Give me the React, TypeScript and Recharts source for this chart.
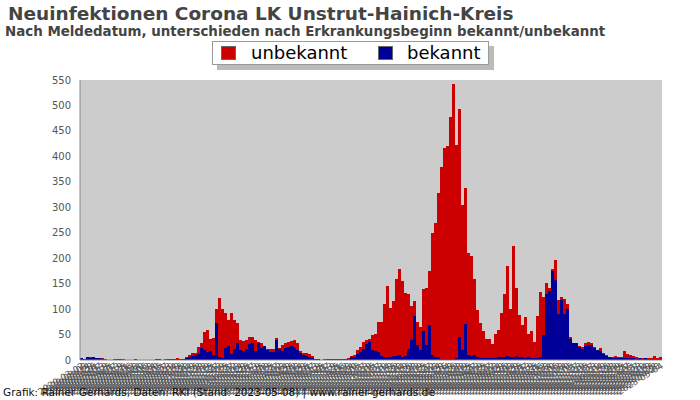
import React from 'react';
import { BarChart, Bar, XAxis, YAxis, CartesianGrid } from 'recharts';

// Fälle mit bekanntem Erkrankungsbeginn (blau, unten)
const bekannt = [
  3, 2, 5, 4, 5, 4, 3, 2, 0, 0,
  0, 0, 1, 1, 0, 0, 0, 0, 1, 0,
  0, 0, 0, 0, 0, 1, 1, 0, 0, 1,
  1, 1, 1, 1, 2, 3, 6, 8, 9, 12,
  23, 20, 15, 18, 10, 73, 6, 3, 23, 28,
  12, 21, 34, 20, 18, 22, 32, 33, 18, 33,
  23, 27, 20, 16, 16, 40, 22, 18, 23, 26,
  28, 25, 20, 13, 10, 8, 6, 3, 1, 1,
  0, 0, 1, 1, 1, 1, 1, 1, 1, 2,
  5, 6, 12, 15, 22, 31, 38, 20, 18, 15,
  8, 5, 5, 5, 8, 8, 10, 5, 8, 22,
  40, 86, 30, 20, 57, 30, 68, 10, 5, 5,
  2, 2, 2, 2, 2, 3, 45, 20, 71, 10,
  8, 10, 5, 3, 3, 3, 3, 3, 3, 5,
  5, 5, 8, 5, 5, 8, 5, 5, 3, 5,
  3, 3, 3, 5, 50, 130, 135, 175, 157, 90,
  118, 90, 100, 42, 34, 33, 26, 22, 28, 30,
  30, 24, 20, 18, 11, 8, 5, 4, 3, 4,
  3, 4, 4, 3, 3, 2, 3, 2, 3, 2,
  2, 2, 2, 2,
];

// Fälle mit unbekanntem Erkrankungsbeginn (rot, oben)
const unbekannt = [
  0, 0, 0, 2, 0, 0, 1, 1, 1, 0,
  0, 1, 0, 0, 1, 0, 0, 0, 0, 0,
  0, 0, 0, 0, 0, 0, 0, 0, 1, 0,
  0, 1, 2, 0, 0, 2, 4, 5, 5, 13,
  10, 35, 44, 24, 33, 27, 116, 97, 69, 50,
  80, 57, 38, 20, 20, 18, 14, 12, 22, 3,
  10, 1, 2, 6, 6, 3, 2, 12, 11, 10,
  10, 14, 14, 5, 4, 6, 5, 5, 1, 0,
  0, 2, 0, 0, 0, 0, 0, 0, 1, 2,
  3, 4, 8, 11, 14, 8, 4, 30, 34, 60,
  67, 105, 141, 97, 108, 151, 168, 150, 124, 108,
  66, 30, 45, 45, 83, 111, 107, 240, 265, 324,
  378, 414, 418, 476, 540, 419, 448, 285, 266, 200,
  197, 149, 93, 69, 53, 38, 38, 29, 49, 54,
  88, 125, 177, 95, 219, 133, 83, 64, 81, 46,
  53, 33, 83, 129, 74, 22, 6, 3, 39, 28,
  6, 29, 10, 3, 0, 0, 2, 3, 6, 5,
  4, 2, 0, 6, 3, 2, 1, 1, 4, 1,
  3, 14, 7, 7, 4, 4, 1, 2, 1, 1,
  2, 5, 1, 3,
];

const yTicks = [0, 50, 100, 150, 200, 250, 300, 350, 400, 450, 500, 550];

// Meldedatum-Kategorien (Achsenbeschriftung)
const startDatum = '2020-03-02';
const schrittTage = 6;
const datum = bekannt.map((_, i) =>
  new Date(Date.parse(startDatum) + i * schrittTage * 86400000).toISOString().slice(0, 10)
);

const data = datum.map((d, i) => ({ datum: d, bekannt: bekannt[i], unbekannt: unbekannt[i] }));

const RED = '#cc0000';
const BLUE = '#000099';
const FONT = '"DejaVu Sans", Verdana, sans-serif';

export default function App() {
  return (
    <div
      style={{
        position: 'absolute',
        left: 0,
        top: 0,
        width: 700,
        height: 400,
        background: '#ffffff',
        fontFamily: FONT,
        overflow: 'hidden',
      }}
    >
      <style>{`.uhk-chart .recharts-bar-rectangle path { shape-rendering: crispEdges; }`}</style>
      <div className="uhk-chart" style={{ position: 'absolute', left: 0, top: 0 }}>
        <BarChart
          width={700}
          height={400}
          data={data}
          margin={{ top: 80, right: 38, bottom: 0, left: 0 }}
          barCategoryGap={0}
          barGap={0}
        >
          <CartesianGrid fill="#cccccc" horizontal={false} vertical={false} />
          <XAxis
            dataKey="datum"
            interval={0}
            height={40}
            angle={-32}
            textAnchor="end"
            tick={{ fontSize: 9, fill: '#555555', fontFamily: FONT }}
            tickLine={false}
            tickSize={0}
            tickMargin={2}
            axisLine={{ stroke: '#888888' }}
          />
          <YAxis
            width={80}
            domain={[0, 550]}
            ticks={yTicks}
            interval={0}
            tickLine={false}
            tickSize={0}
            tickMargin={9}
            axisLine={{ stroke: '#888888' }}
            tick={{ fontSize: 10, fill: '#555555', fontFamily: FONT }}
          />
          <Bar dataKey="bekannt" stackId="a" fill={BLUE} isAnimationActive={false} />
          <Bar dataKey="unbekannt" stackId="a" fill={RED} isAnimationActive={false} />
        </BarChart>
      </div>

      <div
        style={{
          position: 'absolute',
          left: 8,
          top: 4,
          fontSize: 18.5,
          lineHeight: '19px',
          fontWeight: 'bold',
          color: '#444444',
          whiteSpace: 'nowrap',
        }}
      >
        Neuinfektionen Corona LK Unstrut-Hainich-Kreis
      </div>
      <div
        style={{
          position: 'absolute',
          left: 5,
          top: 25,
          fontSize: 13.4,
          lineHeight: '13px',
          fontWeight: 'bold',
          color: '#444444',
          whiteSpace: 'nowrap',
        }}
      >
        Nach Meldedatum, unterschieden nach Erkrankungsbeginn bekannt/unbekannt
      </div>

      {/* Legende */}
      <div
        style={{
          position: 'absolute',
          left: 212,
          top: 41,
          width: 275,
          height: 22,
          background: '#ffffff',
          border: '1px solid #999999',
          boxShadow: '5px 5px 0 #bbbbbb',
        }}
      />
      <div
        style={{
          position: 'absolute',
          left: 221,
          top: 46,
          width: 13,
          height: 12,
          background: RED,
          border: '1px solid #666666',
        }}
      />
      <div
        style={{
          position: 'absolute',
          left: 251,
          top: 44,
          fontSize: 18,
          lineHeight: '18px',
          color: '#000000',
          whiteSpace: 'nowrap',
        }}
      >
        unbekannt
      </div>
      <div
        style={{
          position: 'absolute',
          left: 378,
          top: 46,
          width: 13,
          height: 12,
          background: BLUE,
          border: '1px solid #666666',
        }}
      />
      <div
        style={{
          position: 'absolute',
          left: 407,
          top: 44,
          fontSize: 18,
          lineHeight: '18px',
          color: '#000000',
          whiteSpace: 'nowrap',
        }}
      >
        bekannt
      </div>

      <div
        style={{
          position: 'absolute',
          left: 3,
          top: 387,
          fontSize: 10.5,
          lineHeight: '11px',
          color: '#111111',
          whiteSpace: 'nowrap',
        }}
      >
        Grafik: Rainer Gerhards, Daten: RKI (Stand: 2023-05-08) | www.rainer-gerhards.de
      </div>
    </div>
  );
}
